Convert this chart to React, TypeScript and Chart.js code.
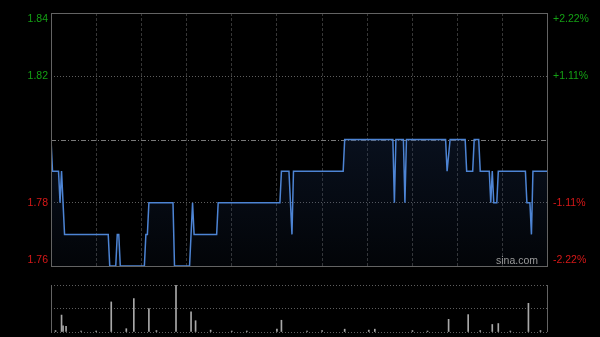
import React, { useEffect, useRef } from 'react';
import { Chart, registerables } from 'chart.js';
Chart.register(...registerables);

// Intraday price (minutes since open, price)
const priceMinutes = [0, 1, 5, 6, 7, 9, 38, 39, 43, 44, 45, 46, 62, 63, 64, 65, 81, 82, 92, 94, 95, 110, 111, 152, 153, 158, 160, 161, 194, 195, 227, 228, 229, 234, 235, 236, 262, 263, 265, 275, 276, 280, 281, 284, 285, 291, 292, 293, 294, 296, 297, 315, 316, 318, 319, 320, 330];
const prices = [1.80, 1.79, 1.79, 1.78, 1.79, 1.77, 1.77, 1.76, 1.76, 1.77, 1.77, 1.76, 1.76, 1.77, 1.77, 1.78, 1.78, 1.76, 1.76, 1.78, 1.77, 1.77, 1.78, 1.78, 1.79, 1.79, 1.77, 1.79, 1.79, 1.80, 1.80, 1.78, 1.80, 1.80, 1.78, 1.80, 1.80, 1.79, 1.80, 1.80, 1.79, 1.79, 1.80, 1.80, 1.79, 1.79, 1.78, 1.79, 1.78, 1.78, 1.79, 1.79, 1.78, 1.78, 1.77, 1.79, 1.79];

// Volume (relative units)
const volMinutes = [3, 7, 8, 10, 20, 30, 40, 50, 55, 65, 70, 83, 93, 96, 106, 120, 130, 150, 153, 170, 180, 195, 211, 215, 240, 250, 264, 277, 285, 293, 297, 305, 317, 325];
const volumes = [0.03, 0.36, 0.13, 0.12, 0.02, 0.02, 0.64, 0.07, 0.71, 0.50, 0.03, 1.0, 0.43, 0.24, 0.04, 0.02, 0.02, 0.06, 0.25, 0.02, 0.03, 0.06, 0.04, 0.06, 0.03, 0.02, 0.27, 0.37, 0.03, 0.16, 0.18, 0.02, 0.61, 0.03];

const prevClose = 1.80;
const priceTicks = [1.76, 1.78, 1.80, 1.82, 1.84];
const leftLabels = ['1.76', '1.78', '', '1.82', '1.84'];
const rightLabels = ['-2.22%', '-1.11%', '', '+1.11%', '+2.22%'];
const timeTicks = [0, 30, 60, 90, 120, 150, 180, 210, 240, 270, 300, 330];
const watermark = 'sina.com';

const GREEN = '#14a014';
const RED = '#d81818';
const FONT = '10.5px "Liberation Sans", Arial, sans-serif';

export default function App() {
  const mainRef = useRef<HTMLCanvasElement>(null);
  const volRef = useRef<HTMLCanvasElement>(null);

  useEffect(() => {
    document.body.style.margin = '0';
    document.body.style.background = '#000';

    const mainPlugin = {
      id: 'mainDeco',
      beforeDatasetsDraw(chart: any) {
        const { ctx, chartArea: a, scales } = chart;
        const y = Math.round(scales.y.getPixelForValue(prevClose)) + 0.5;
        ctx.save();
        ctx.strokeStyle = '#7a7a7a';
        ctx.lineWidth = 1;
        ctx.setLineDash([5, 2, 1, 2]);
        ctx.beginPath();
        ctx.moveTo(a.left, y);
        ctx.lineTo(a.right, y);
        ctx.stroke();
        ctx.restore();
      },
      afterDraw(chart: any) {
        const { ctx, chartArea: a, scales } = chart;
        ctx.save();
        ctx.strokeStyle = '#636363';
        ctx.lineWidth = 1;
        ctx.setLineDash([]);
        ctx.strokeRect(a.left + 0.5, a.top + 0.5, a.right - a.left - 1, a.bottom - a.top);
        ctx.font = FONT;
        ctx.textBaseline = 'middle';
        priceTicks.forEach((v, i) => {
          if (!leftLabels[i]) return;
          let y = scales.y.getPixelForValue(v);
          if (y < a.top + 6) y = a.top + 6;
          if (y > a.bottom - 6) y = a.bottom - 6;
          ctx.fillStyle = v > prevClose ? GREEN : RED;
          ctx.textAlign = 'right';
          ctx.fillText(leftLabels[i], a.left - 3, y);
          ctx.textAlign = 'left';
          ctx.fillText(rightLabels[i], a.right + 5, y);
        });
        ctx.fillStyle = '#9a9a9a';
        ctx.textAlign = 'right';
        ctx.font = '10.5px "Liberation Sans", Arial, sans-serif';
        ctx.fillText(watermark, a.right - 10, a.bottom - 5);
        ctx.restore();
      },
    };

    const main = new Chart(mainRef.current!, {
      type: 'line',
      data: {
        datasets: [
          {
            data: priceMinutes.map((m, i) => ({ x: m, y: prices[i] })),
            borderColor: '#4d84d4',
            borderWidth: 1.5,
            pointRadius: 0,
            tension: 0,
            fill: 'start',
            backgroundColor: (c: any) => {
              const a = c.chart.chartArea;
              if (!a) return 'rgba(20,40,80,0.3)';
              const g = c.chart.ctx.createLinearGradient(0, a.top, 0, a.bottom);
              g.addColorStop(0, 'rgba(30,55,100,0.5)');
              g.addColorStop(1, 'rgba(30,55,100,0.08)');
              return g;
            },
          },
        ],
      },
      options: {
        animation: false,
        responsive: false,
        maintainAspectRatio: false,
        layout: { padding: { left: 51, right: 52, top: 13, bottom: 14 } },
        plugins: { legend: { display: false }, tooltip: { enabled: false } },
        scales: {
          x: {
            type: 'linear',
            min: 0,
            max: 330,
            afterBuildTicks: (s: any) => { s.ticks = timeTicks.map((v) => ({ value: v })); },
            ticks: { display: false },
            grid: {
              drawTicks: false,
              color: (c: any) => (c.tick && (c.tick.value === 0 || c.tick.value === 330) ? 'transparent' : '#363636'),
              lineWidth: 1,
            },
            border: { display: false, dash: [3, 2] },
          },
          y: {
            type: 'linear',
            min: 1.76,
            max: 1.84,
            afterBuildTicks: (s: any) => { s.ticks = priceTicks.map((v) => ({ value: v })); },
            ticks: { display: false },
            grid: {
              drawTicks: false,
              color: (c: any) => {
                const v = c.tick ? c.tick.value : 0;
                return v === 1.76 || v === 1.84 || Math.abs(v - prevClose) < 1e-6 ? 'transparent' : '#5e5e5e';
              },
              lineWidth: 1,
            },
            border: { display: false, dash: [1, 2] },
          },
        },
      },
      plugins: [mainPlugin],
    });

    const volPlugin = {
      id: 'volDeco',
      afterDraw(chart: any) {
        const { ctx, chartArea: a } = chart;
        ctx.save();
        ctx.strokeStyle = '#636363';
        ctx.lineWidth = 1;
        ctx.beginPath();
        ctx.moveTo(a.left + 0.5, a.top);
        ctx.lineTo(a.left + 0.5, a.bottom);
        ctx.moveTo(a.right - 0.5, a.top);
        ctx.lineTo(a.right - 0.5, a.bottom);
        ctx.stroke();
        ctx.restore();
      },
    };

    const vol = new Chart(volRef.current!, {
      type: 'bar',
      data: {
        datasets: [
          {
            data: volMinutes.map((m, i) => ({ x: m, y: volumes[i] })),
            backgroundColor: '#a8a8a8',
            barThickness: 1,
            grouped: false,
          } as any,
        ],
      },
      options: {
        animation: false,
        responsive: false,
        maintainAspectRatio: false,
        layout: { padding: { left: 51, right: 52, top: 5, bottom: 5 } },
        plugins: { legend: { display: false }, tooltip: { enabled: false } },
        scales: {
          x: {
            type: 'linear',
            min: 0,
            max: 330,
            offset: false,
            ticks: { display: false },
            grid: { display: false, drawTicks: false },
            border: { display: false },
          },
          y: {
            min: 0,
            max: 1,
            afterBuildTicks: (s: any) => { s.ticks = [0, 0.5, 1].map((v) => ({ value: v })); },
            ticks: { display: false },
            grid: { drawTicks: false, color: '#5e5e5e', lineWidth: 1 },
            border: { display: false, dash: [1, 2] },
          },
        },
      },
      plugins: [volPlugin],
    });

    return () => {
      main.destroy();
      vol.destroy();
    };
  }, []);

  return (
    <div style={{ position: 'fixed', left: 0, top: 0, width: 600, height: 337, background: '#000', overflow: 'hidden' }}>
      <canvas ref={mainRef} width={600} height={280} style={{ position: 'absolute', left: 0, top: 0, width: 600, height: 280 }} />
      <canvas ref={volRef} width={600} height={57} style={{ position: 'absolute', left: 0, top: 280, width: 600, height: 57 }} />
    </div>
  );
}
